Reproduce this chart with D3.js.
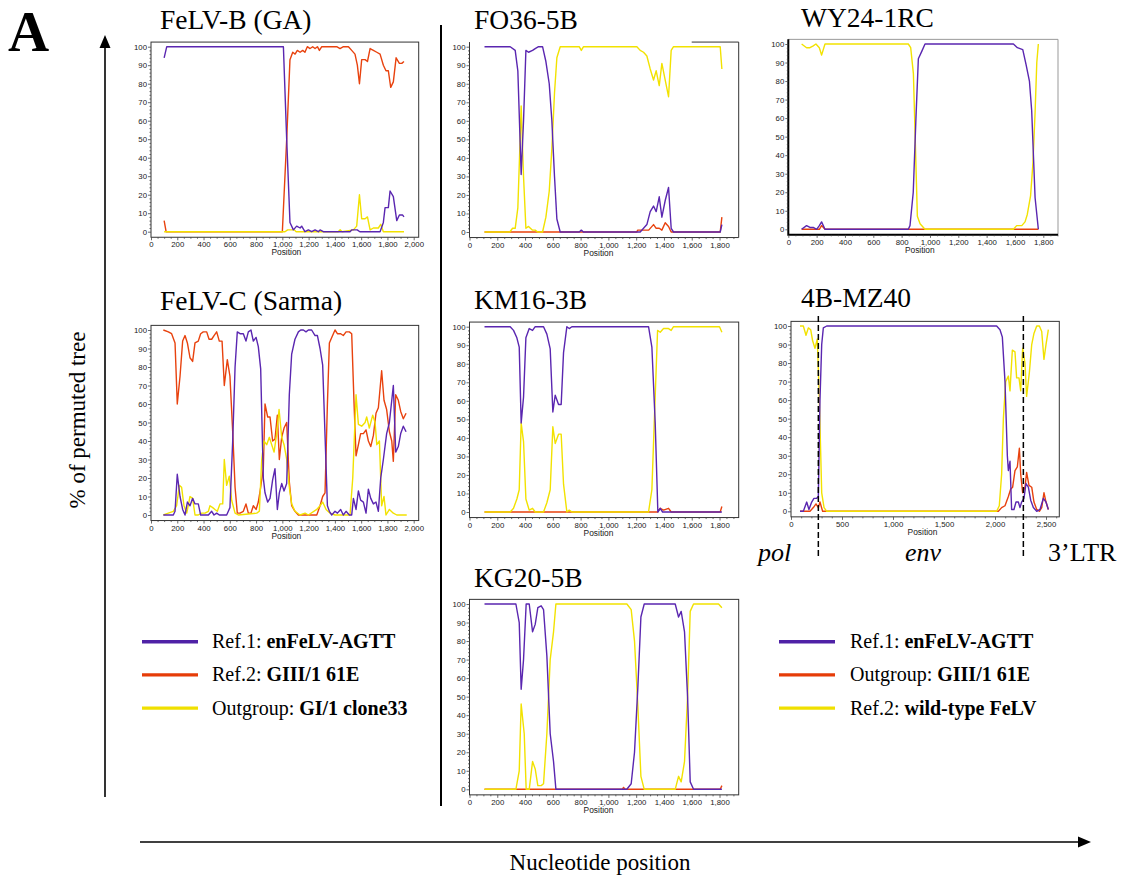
<!DOCTYPE html>
<html><head><meta charset="utf-8">
<script src="https://cdn.jsdelivr.net/npm/d3@7"></script>
<style>body{margin:0;background:#fff;} svg{display:block;}</style>
</head><body>
<svg id="chart" width="1127" height="878"></svg>
<script>
// ---------------- DATA: [nucleotide position, % of permuted trees] ----------------
// FeLV-B (GA)
const felvB_purple = [[100,94],[120,100],[1008,100],[1033,50],[1058,5],[1084,1],[1109,3],[1135,2],[1147,3],[1172,0],[1198,1],[1223,0],[1249,1],[1274,0],[1287,1],[1312,0],[1515,0],[1530,1],[1570,1],[1590,0],[1744,0],[1769,5],[1782,13],[1807,13],[1820,22],[1845,19],[1871,6],[1891,9],[1916,9],[1926,8]];
const felvB_red = [[100,6],[115,0],[1000,0],[1033,50],[1058,93],[1079,97],[1097,96],[1114,98],[1135,97],[1155,98],[1172,97],[1190,100],[1211,99],[1231,100],[1249,99],[1267,100],[1282,98],[1300,100],[1414,100],[1439,99],[1465,100],[1503,100],[1528,98],[1553,96],[1571,90],[1587,80],[1604,93],[1630,93],[1648,92],[1668,99],[1693,98],[1719,97],[1744,96],[1769,90],[1789,87],[1807,87],[1825,78],[1845,81],[1866,94],[1891,91],[1909,91],[1926,92]];
const felvB_yellow = [[100,0],[1020,0],[1040,1],[1090,1],[1105,0],[1425,0],[1440,1],[1455,0],[1541,1],[1566,3],[1587,20],[1604,7],[1630,7],[1648,8],[1668,1],[1693,2],[1731,2],[1749,4],[1769,0],[1926,0]];
// FeLV-C (Sarma)
const felvC_purple = [[94,0],[170,0],[183,2],[200,22],[221,10],[241,3],[259,0],[277,7],[297,5],[317,9],[335,6],[360,6],[378,0],[437,0],[462,2],[480,0],[500,1],[520,0],[576,0],[601,4],[622,40],[640,80],[657,99],[678,98],[703,98],[723,94],[741,99],[761,100],[779,94],[800,96],[817,91],[835,79],[855,20],[868,12],[888,7],[906,9],[926,19],[944,25],[962,3],[977,12],[995,17],[1013,13],[1033,17],[1053,65],[1071,87],[1096,95],[1122,99],[1140,100],[1160,100],[1180,99],[1198,100],[1223,100],[1249,97],[1267,97],[1287,90],[1307,81],[1343,5],[1358,2],[1376,0],[1401,2],[1419,1],[1444,3],[1464,0],[1485,2],[1510,0],[1528,0],[1541,9],[1561,3],[1579,13],[1596,8],[1617,7],[1637,1],[1655,14],[1673,9],[1693,6],[1713,7],[1731,2],[1749,20],[1769,30],[1794,44],[1815,50],[1845,70],[1863,34],[1883,37],[1901,44],[1921,48],[1942,45]];
const felvC_red = [[94,100],[132,99],[157,98],[183,93],[200,60],[221,75],[241,94],[259,97],[277,93],[297,85],[317,83],[335,93],[360,94],[378,98],[398,99],[424,99],[442,95],[462,95],[480,97],[500,99],[520,94],[541,94],[558,70],[581,84],[601,75],[622,45],[640,15],[657,1],[678,1],[703,2],[723,6],[741,1],[761,1],[779,5],[800,3],[817,7],[835,15],[855,25],[868,60],[888,53],[906,53],[926,40],[944,41],[962,54],[977,30],[995,42],[1013,47],[1033,50],[1053,18],[1071,5],[1096,2],[1122,0],[1262,0],[1287,5],[1307,10],[1325,12],[1343,60],[1358,93],[1376,96],[1401,100],[1419,98],[1444,98],[1464,97],[1485,99],[1510,99],[1528,98],[1546,60],[1561,32],[1579,38],[1596,44],[1617,44],[1637,46],[1655,40],[1673,37],[1693,43],[1713,55],[1731,58],[1756,78],[1774,62],[1794,57],[1815,45],[1833,40],[1845,29],[1863,65],[1883,62],[1901,56],[1921,52],[1942,55]];
const felvC_yellow = [[94,0],[132,1],[170,2],[195,5],[216,16],[233,15],[251,5],[272,1],[297,10],[317,9],[335,0],[360,0],[386,1],[411,1],[437,2],[449,5],[470,4],[487,3],[505,2],[525,6],[546,6],[558,30],[576,16],[596,21],[614,8],[640,1],[665,0],[805,1],[825,2],[843,30],[860,40],[881,38],[901,42],[919,38],[937,34],[957,44],[975,57],[995,42],[1013,38],[1033,30],[1053,15],[1071,6],[1096,2],[1135,0],[1173,1],[1198,0],[1262,3],[1287,5],[1307,7],[1333,3],[1363,1],[1401,0],[1515,0],[1536,20],[1561,65],[1579,49],[1604,48],[1630,50],[1642,53],[1662,47],[1688,54],[1706,50],[1719,38],[1739,40],[1756,5],[1774,10],[1789,0],[1815,3],[1845,1],[1871,0],[1947,0]];
// FO36-5B
const fo36_purple = [[108,100],[293,100],[329,98],[348,87],[372,31],[389,60],[406,98],[425,97],[454,98],[473,99],[497,100],[526,100],[550,92],[574,80],[593,60],[612,30],[629,7],[653,0],[790,0],[805,1],[820,0],[1229,0],[1253,2],[1277,4],[1301,11],[1325,14],[1344,11],[1366,19],[1385,8],[1409,17],[1433,24],[1452,2],[1469,0],[1805,0],[1817,4]];
const fo36_red = [[108,0],[1205,0],[1210,1],[1290,1],[1325,4],[1344,2],[1366,2],[1385,1],[1409,5],[1433,3],[1452,0],[1805,0],[1817,8]];
const fo36_yellow = [[108,0],[290,0],[310,2],[329,2],[348,13],[360,40],[372,68],[389,30],[406,2],[425,3],[454,1],[473,1],[490,0],[526,0],[550,8],[574,22],[593,45],[612,75],[629,94],[653,100],[790,100],[805,98],[821,100],[1205,100],[1229,98],[1253,97],[1277,95],[1301,88],[1325,82],[1344,87],[1366,79],[1385,91],[1409,82],[1433,73],[1452,98],[1469,100],[1805,100],[1817,88]];
// KM16-3B
const km16_purple = [[108,100],[293,100],[317,98],[341,94],[358,89],[372,48],[389,62],[406,94],[430,99],[454,98],[473,100],[533,100],[557,96],[581,88],[600,54],[617,63],[641,58],[660,58],[677,86],[701,100],[718,99],[737,100],[1289,100],[1313,89],[1337,48],[1356,0],[1373,2],[1390,0],[1817,0]];
const km16_red = [[108,0],[1354,0],[1373,2],[1397,1],[1433,2],[1452,0],[1805,0],[1817,3]];
const km16_yellow = [[108,0],[293,0],[317,2],[341,7],[358,12],[372,48],[389,38],[406,7],[430,1],[454,2],[473,0],[533,0],[557,5],[581,12],[600,46],[617,37],[641,42],[660,42],[677,15],[701,0],[718,1],[737,0],[1289,0],[1313,12],[1330,48],[1354,98],[1373,97],[1397,99],[1433,99],[1452,98],[1469,100],[1800,100],[1817,97]];
// KG20-5B
const kg20_purple = [[108,100],[334,100],[358,90],[372,54],[389,70],[408,100],[430,100],[454,85],[473,89],[492,98],[516,99],[533,97],[557,72],[581,30],[605,15],[622,0],[1133,0],[1164,3],[1188,20],[1212,55],[1234,93],[1258,100],[1481,100],[1505,93],[1524,96],[1548,85],[1570,50],[1589,4],[1613,0],[1817,0]];
const kg20_red = [[108,0],[1100,0],[1109,1],[1120,0],[1805,0],[1817,2]];
const kg20_yellow = [[108,0],[334,0],[358,10],[372,46],[394,30],[408,0],[430,0],[454,15],[473,11],[492,2],[516,2],[533,3],[557,30],[581,70],[605,85],[622,100],[1133,100],[1164,97],[1188,80],[1212,45],[1234,7],[1258,0],[1481,0],[1505,7],[1524,4],[1548,15],[1570,50],[1589,96],[1613,100],[1793,100],[1817,98]];
// WY24-1RC
const wy24_purple = [[94,0],[129,2],[153,1],[176,1],[200,0],[219,2],[235,4],[259,0],[847,0],[859,2],[882,20],[901,60],[918,92],[942,96],[965,100],[1589,100],[1617,98],[1655,97],[1678,89],[1702,80],[1718,64],[1742,17],[1765,0]];
const wy24_red = [[94,0],[219,0],[235,2],[259,0],[1765,0]];
const wy24_yellow = [[94,100],[129,98],[153,98],[176,99],[195,100],[219,98],[235,94],[259,100],[847,100],[864,98],[883,84],[894,54],[911,7],[930,3],[965,0],[1589,0],[1612,2],[1648,2],[1671,4],[1687,8],[1710,18],[1727,36],[1742,63],[1754,90],[1765,100]];
// 4B-MZ40
const mz40_purple = [[88,0],[121,0],[154,5],[176,1],[203,5],[225,7],[252,7],[268,8],[284,60],[301,90],[317,99],[350,100],[2016,100],[2049,98],[2072,94],[2098,70],[2121,30],[2131,22],[2147,27],[2163,1],[2186,1],[2206,5],[2229,5],[2245,2],[2261,5],[2284,7],[2304,15],[2327,13],[2350,6],[2376,2],[2409,0],[2441,1],[2474,7],[2500,5],[2523,1]];
const mz40_red = [[88,0],[186,0],[219,2],[245,4],[268,2],[284,5],[310,0],[2033,0],[2065,2],[2098,3],[2131,8],[2154,12],[2173,13],[2196,22],[2219,24],[2239,34],[2252,20],[2271,10],[2294,13],[2310,21],[2333,14],[2360,13],[2382,5],[2409,1],[2435,0],[2458,2],[2480,10],[2500,5],[2523,1]];
const mz40_yellow = [[88,100],[121,100],[147,95],[170,99],[193,98],[212,92],[235,88],[258,93],[278,60],[301,10],[324,2],[350,0],[2016,0],[2042,3],[2065,20],[2082,50],[2105,70],[2131,73],[2147,65],[2170,87],[2196,86],[2212,72],[2235,72],[2252,65],[2271,88],[2294,80],[2310,62],[2337,75],[2360,90],[2382,96],[2409,100],[2435,100],[2458,97],[2480,82],[2500,90],[2523,98]];
const mz40_boundaries = [268, 2278];
const mz40_regions = ["pol", "env", "3’LTR"];

const yTicks = [0,10,20,30,40,50,60,70,80,90,100];
const xTicks2000 = [0,200,400,600,800,1000,1200,1400,1600,1800,2000];
const xTicks1800 = [0,200,400,600,800,1000,1200,1400,1600,1800];
const xTicks2500 = [0,500,1000,1500,2000,2500];

const legendLeft = [["Ref.1: ","enFeLV-AGTT"],["Ref.2: ","GIII/1 61E"],["Outgroup: ","GI/1 clone33"]];
const legendRight = [["Ref.1: ","enFeLV-AGTT"],["Outgroup: ","GIII/1 61E"],["Ref.2: ","wild-type FeLV"]];

// ---------------- STYLE / LAYOUT ----------------
const COL = {purple:"#5a26b0", red:"#e8420e", yellow:"#f2e200"};
const LEG = {purple:"#4f22a6", red:"#e63c08", yellow:"#f0e000"};
const serif = "'Liberation Serif','Times New Roman',serif";
const sans = "'Liberation Sans',Arial,sans-serif";

const panels = [
  {title:"FeLV-B (GA)", tx:160, ty:29, left:151, right:418.7, k:0.13135, y100:46.7, y0:231.7, xt:xTicks2000, minor:50, s:{purple:felvB_purple, red:felvB_red, yellow:felvB_yellow}},
  {title:"FeLV-C (Sarma)", tx:160, ty:310, left:151, right:418.7, k:0.13135, y100:330, y0:515, xt:xTicks2000, minor:50, s:{purple:felvC_purple, red:felvC_red, yellow:felvC_yellow}},
  {title:"FO36-5B", tx:474, ty:29, left:469.5, right:738.7, k:0.1389, y100:46.7, y0:232, xt:xTicks1800, minor:50, partialTop:true, s:{purple:fo36_purple, red:fo36_red, yellow:fo36_yellow}},
  {title:"KM16-3B", tx:474, ty:309, left:469.5, right:738.7, k:0.1389, y100:326.7, y0:512, xt:xTicks1800, minor:50, s:{purple:km16_purple, red:km16_red, yellow:km16_yellow}},
  {title:"KG20-5B", tx:474, ty:587, left:469.5, right:738.7, k:0.1389, y100:604, y0:789.3, xt:xTicks1800, minor:50, s:{purple:kg20_purple, red:kg20_red, yellow:kg20_yellow}},
  {title:"WY24-1RC", tx:801, ty:27, left:788.3, right:1058, k:0.14167, y100:44, y0:229.3, xt:xTicks1800, minor:50, boldAxes:true, s:{purple:wy24_purple, red:wy24_red, yellow:wy24_yellow}},
  {title:"4B-MZ40", tx:801, ty:307, left:791, right:1059.3, k:0.102, y100:326, y0:511.3, xt:xTicks2500, minor:100, s:{purple:mz40_purple, red:mz40_red, yellow:mz40_yellow}}
];

const svg = d3.select("#chart");

panels.forEach((p, i) => {
  const xMax = (p.right - p.left) / p.k;
  const x = d3.scaleLinear().domain([0, xMax]).range([p.left, p.right]);
  const y = d3.scaleLinear().domain([0, 100]).range([p.y0, p.y100]);
  const top = y(102.5), bot = y(-3);
  const g = svg.append("g");
  p.x = x; p.y = y;

  g.append("text").attr("x", p.tx).attr("y", p.ty).text(p.title)
    .attr("font-family", serif).attr("font-size", 27.5).attr("fill", "#000");

  const line = d3.line().x(d => x(d[0])).y(d => y(d[1]));
  ["red","yellow","purple"].forEach(c => {
    g.append("path").datum(p.s[c]).attr("d", line)
      .attr("fill","none").attr("stroke", COL[c]).attr("stroke-width", 1.4)
      .attr("stroke-linejoin","round");
  });

  const fc = "#333";
  if (p.partialTop) {
    g.append("path").attr("d", `M${p.left},${top}V${bot}H${p.right}V${top}`).attr("fill","none").attr("stroke",fc).attr("stroke-width",1);
    g.append("line").attr("x1", p.right-47).attr("x2", p.right).attr("y1", top).attr("y2", top).attr("stroke",fc);
  } else if (p.boldAxes) {
    g.append("path").attr("d", `M${p.left},${top}H${p.right}V${bot}`).attr("fill","none").attr("stroke","#999").attr("stroke-width",1);
    g.append("path").attr("d", `M${p.left},${top}V${bot}H${p.right}`).attr("fill","none").attr("stroke","#000").attr("stroke-width",2);
  } else {
    g.append("rect").attr("x", p.left).attr("y", top).attr("width", p.right-p.left).attr("height", bot-top)
      .attr("fill","none").attr("stroke",fc).attr("stroke-width",1);
  }

  const ya = g.append("g").attr("transform", `translate(${p.left},0)`)
    .call(d3.axisLeft(y).tickValues(yTicks).tickSize(3).tickPadding(1));
  const yMinor = d3.range(0, 101, 2).filter(v => v % 10 !== 0);
  const ym = g.append("g").attr("transform", `translate(${p.left},0)`)
    .call(d3.axisLeft(y).tickValues(yMinor).tickSize(1.5).tickFormat(""));
  const xa = g.append("g").attr("transform", `translate(0,${bot})`)
    .call(d3.axisBottom(x).tickValues(p.xt).tickSize(3).tickPadding(1.5).tickFormat(d3.format(",")));
  const xMinor = d3.range(0, xMax, p.minor).filter(v => p.xt.indexOf(v) < 0);
  const xm = g.append("g").attr("transform", `translate(0,${bot})`)
    .call(d3.axisBottom(x).tickValues(xMinor).tickSize(1.5).tickFormat(""));
  [ya, ym, xa, xm].forEach(a => {
    a.select(".domain").remove();
    a.selectAll("line").attr("stroke", "#444").attr("stroke-width", 0.8);
    a.selectAll("text").attr("font-family", sans).attr("font-size", 7.8).attr("fill", "#222");
  });
  g.append("text").attr("x", (p.left + x(p.xt[p.xt.length-1]))/2 + 4).attr("y", bot + 18)
    .attr("text-anchor","middle").attr("font-family", sans).attr("font-size", 8.4).attr("fill","#222").text("Position");
});

// 4B-MZ40 gene-region boundaries and labels
{
  const p = panels[6];
  mz40_boundaries.forEach(b => {
    svg.append("line").attr("x1", p.x(b)).attr("x2", p.x(b)).attr("y1", 316).attr("y2", 558)
      .attr("stroke","#000").attr("stroke-width",1.5).attr("stroke-dasharray","6,3");
  });
  const lx = [758, 923, 1048];
  const anchors = ["start","middle","start"];
  mz40_regions.forEach((t, i) => {
    svg.append("text").attr("x", lx[i]).attr("y", 561).attr("text-anchor", anchors[i])
      .attr("font-family", serif).attr("font-size", 26).attr("font-style", i < 2 ? "italic" : "normal").text(t);
  });
}

// legends
function legend(x0, xText, items, colors) {
  items.forEach((it, i) => {
    const yy = 641.7 + i * 33.2;
    svg.append("line").attr("x1", x0).attr("x2", x0 + 56).attr("y1", yy).attr("y2", yy)
      .attr("stroke", LEG[colors[i]]).attr("stroke-width", 3.4);
    const t = svg.append("text").attr("x", xText).attr("y", yy + 6.5)
      .attr("font-family", serif).attr("font-size", 20).attr("fill","#000");
    t.append("tspan").text(it[0]);
    t.append("tspan").attr("font-weight","bold").text(it[1]);
  });
}
legend(142, 212, legendLeft, ["purple","red","yellow"]);
legend(779, 850, legendRight, ["purple","red","yellow"]);

// overall axes, arrows, separator
svg.append("line").attr("x1",105).attr("x2",105).attr("y1",797).attr("y2",46).attr("stroke","#000").attr("stroke-width",1.6);
svg.append("path").attr("d","M105,35L99.5,48L110.5,48Z").attr("fill","#000");
svg.append("line").attr("x1",140).attr("x2",1080).attr("y1",842).attr("y2",842).attr("stroke","#000").attr("stroke-width",1.6);
svg.append("path").attr("d","M1091,842L1078,836.5L1078,847.5Z").attr("fill","#000");
svg.append("line").attr("x1",441).attr("x2",441).attr("y1",25).attr("y2",806).attr("stroke","#000").attr("stroke-width",2);

svg.append("text").attr("transform","translate(85,420) rotate(-90)").attr("text-anchor","middle")
  .attr("font-family", serif).attr("font-size", 23).text("% of permuted tree");
svg.append("text").attr("x", 600).attr("y", 870).attr("text-anchor","middle")
  .attr("font-family", serif).attr("font-size", 23).text("Nucleotide position");
svg.append("text").attr("x", 8).attr("y", 51).attr("font-family", serif).attr("font-weight","bold")
  .attr("font-size", 57).text("A");
</script>
</body></html>
